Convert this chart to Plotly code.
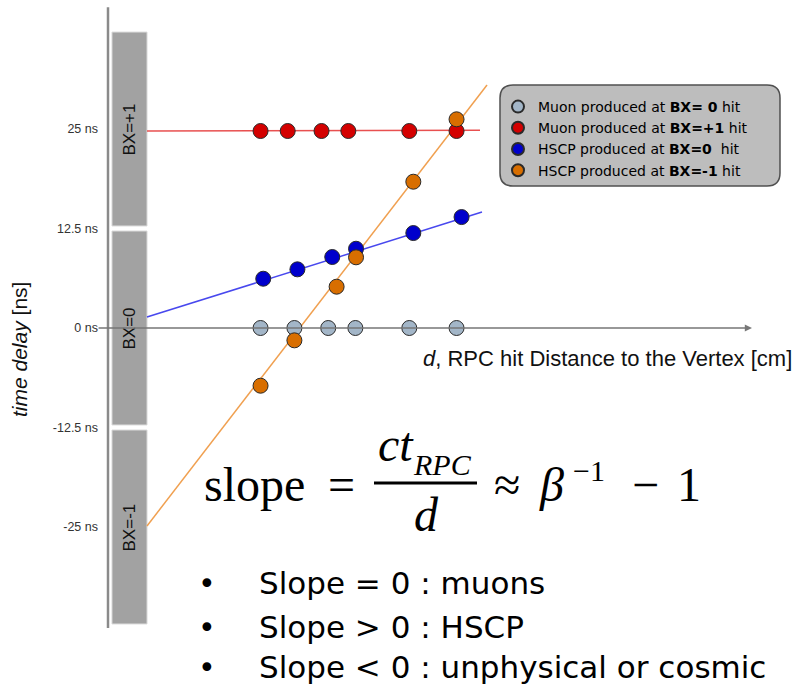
import plotly.graph_objects as go

W, H = 804, 688

# RPC hits: distance to the vertex d [cm] and time delay [ns]
d_muon_bx0 = [33.9, 44.0, 54.1, 62.2, 78.3, 92.4]
t_muon_bx0 = [0.0, 0.0, 0.0, 0.0, 0.0, 0.0]

d_muon_bxp1 = [33.9, 42.0, 52.1, 60.1, 78.3, 92.4]
t_muon_bxp1 = [24.75, 24.75, 24.75, 24.75, 24.75, 24.75]

d_hscp_bx0 = [34.7, 44.9, 55.3, 62.4, 79.5, 93.9]
t_hscp_bx0 = [6.19, 7.37, 8.92, 9.96, 11.93, 13.94]

d_hscp_bxm1 = [33.9, 44.0, 56.6, 62.4, 79.5, 92.4]
t_hscp_bxm1 = [-7.25, -1.55, 5.19, 8.88, 18.38, 26.22]

# straight-line fits through the hits (end points)
fit_d_muon_bxp1 = [0.0, 99.4]
fit_t_muon_bxp1 = [24.75, 24.85]
fit_d_hscp_bx0 = [0.0, 100.0]
fit_t_hscp_bx0 = [1.38, 14.57]
fit_d_hscp_bxm1 = [0.0, 101.5]
fit_t_hscp_bxm1 = [-24.87, 30.53]

# bunch-crossing windows [ns]
bx_labels = ["BX=-1", "BX=0", "BX=+1"]
bx_lo = [-37.5, -12.5, 12.5]
bx_hi = [-12.5, 12.5, 37.5]

# y tick labels
y_tickvals = [25, 12.5, 0, -12.5, -25]
y_ticktext = ["25 ns", "12.5 ns", "0 ns", "-12.5 ns", "-25 ns"]

legend_names = [
    "Muon produced at <b>BX= 0</b> hit",
    "Muon produced at <b>BX=+1</b> hit",
    "HSCP produced at <b>BX=0</b>  hit",
    "HSCP produced at <b>BX=-1</b> hit",
]
colors = ["#a3b6c8", "#d40000", "#0000cc", "#d86e00"]
fit_colors = ["#e85050", "#4848ee", "#f0a050"]

X_RANGE = [-43.88, 196.12]
Y_RANGE = [-45.23, 41.21]
SANS = "Liberation Sans, Arial, sans-serif"
SERIF = "Liberation Serif, Times New Roman, serif"
WIDE = "DejaVu Sans, sans-serif"


def px(x):
    return x / W


def py(y):
    return 1 - y / H


fig = go.Figure()

# fitted lines
for dd, tt, c in [(fit_d_muon_bxp1, fit_t_muon_bxp1, fit_colors[0]),
                  (fit_d_hscp_bx0, fit_t_hscp_bx0, fit_colors[1]),
                  (fit_d_hscp_bxm1, fit_t_hscp_bxm1, fit_colors[2])]:
    fig.add_trace(go.Scatter(x=dd, y=tt, mode="lines", showlegend=False,
                             line=dict(color=c, width=1.5), hoverinfo="skip"))

# hits
for dd, tt, name, c in [(d_muon_bx0, t_muon_bx0, legend_names[0], colors[0]),
                        (d_muon_bxp1, t_muon_bxp1, legend_names[1], colors[1]),
                        (d_hscp_bx0, t_hscp_bx0, legend_names[2], colors[2]),
                        (d_hscp_bxm1, t_hscp_bxm1, legend_names[3], colors[3])]:
    fig.add_trace(go.Scatter(x=dd, y=tt, mode="markers", name=name,
                             marker=dict(size=15, color=c,
                                         line=dict(color="#2a2a2a", width=1))))

shapes = []
annotations = []

# BX windows drawn as gray bands beside the time axis
BAR_D0, BAR_D1, GAP = -10.45, 0.0, 0.32
for lab, lo, hi in zip(bx_labels, bx_lo, bx_hi):
    shapes.append(dict(type="rect", xref="x", yref="y", x0=BAR_D0, x1=BAR_D1,
                       y0=lo + GAP, y1=hi - GAP, fillcolor="#a2a2a2",
                       line=dict(color="#d8d8d8", width=1), layer="below"))
    annotations.append(dict(xref="x", yref="y", x=(BAR_D0 + BAR_D1) / 2,
                            y=(lo + hi) / 2, text=lab, showarrow=False,
                            textangle=-90, font=dict(family=SANS, size=17, color="#111")))

# vertical time axis
AXIS_D = -11.64
shapes.append(dict(type="line", xref="x", yref="y", x0=AXIS_D, x1=AXIS_D,
                   y0=-37.7, y1=40.3, line=dict(color="#8a8a8a", width=2.5)))

# distance axis with arrow
annotations.append(dict(xref="x", yref="y", axref="x", ayref="y",
                        x=180.6, y=0, ax=-14.9, ay=0, text="", showarrow=True,
                        arrowhead=2, arrowsize=0.9, arrowwidth=1.6,
                        arrowcolor="#777", standoff=0, startstandoff=0))

annotations.append(dict(xref="paper", yref="paper", x=px(607), y=py(358),
                        xanchor="center", yanchor="middle",
                        text="<i>d</i>, RPC hit Distance to the Vertex [cm]",
                        showarrow=False, font=dict(family=SANS, size=22, color="#111")))
annotations.append(dict(xref="paper", yref="paper", x=px(19), y=py(350),
                        xanchor="center", yanchor="middle",
                        text="<i>time delay</i> [ns]", textangle=-90,
                        showarrow=False, font=dict(family=SANS, size=21, color="#111")))

# legend frame (rounded box)
lx0, lx1, ly0, ly1, r = 500, 780, 85, 186, 13
path = (f"M {px(lx0 + r)} {py(ly0)} L {px(lx1 - r)} {py(ly0)} "
        f"Q {px(lx1)} {py(ly0)} {px(lx1)} {py(ly0 + r)} "
        f"L {px(lx1)} {py(ly1 - r)} Q {px(lx1)} {py(ly1)} {px(lx1 - r)} {py(ly1)} "
        f"L {px(lx0 + r)} {py(ly1)} Q {px(lx0)} {py(ly1)} {px(lx0)} {py(ly1 - r)} "
        f"L {px(lx0)} {py(ly0 + r)} Q {px(lx0)} {py(ly0)} {px(lx0 + r)} {py(ly0)} Z")
shapes.append(dict(type="path", xref="paper", yref="paper", path=path,
                   fillcolor="#bdbdbd", line=dict(color="#505050", width=1.5),
                   layer="below"))


# slope formula
def txt(x, y, s, size, family=SERIF, xanchor="left"):
    annotations.append(dict(xref="paper", yref="paper", x=px(x), y=py(y), text=s,
                            showarrow=False, xanchor=xanchor, yanchor="middle",
                            font=dict(family=family, size=size, color="#000")))


txt(202, 484, "slope", 48)
txt(326, 484, "=", 48)
txt(376, 444, "<i>ct</i>", 48)
txt(411, 464, "<i>RPC</i>", 30)
shapes.append(dict(type="line", xref="paper", yref="paper", x0=px(374), x1=px(477),
                   y0=py(483), y1=py(483), line=dict(color="#000", width=3)))
txt(426, 514, "<i>d</i>", 48, xanchor="center")
txt(492, 484, "≈", 48)
txt(537, 484, "<i>β</i>", 48)
txt(571, 470, "−1", 30)
txt(630, 484, "−", 48)
txt(675, 484, "1", 48)

# bullet list
bullets = ["Slope = 0 : muons", "Slope > 0 : HSCP", "Slope < 0 : unphysical or cosmic"]
bullet_y = [583, 627, 667]
for s, yy in zip(bullets, bullet_y):
    txt(207, yy, "•", 30, family=WIDE, xanchor="center")
    txt(257, yy, s, 31, family=WIDE)

fig.update_layout(
    width=W, height=H, margin=dict(l=0, r=0, t=0, b=0),
    paper_bgcolor="white", plot_bgcolor="white",
    xaxis=dict(range=X_RANGE, visible=False, fixedrange=True),
    yaxis=dict(range=Y_RANGE, anchor="free", position=px(108), side="left",
               showgrid=False, zeroline=False, showline=False,
               tickvals=y_tickvals, ticktext=y_ticktext, ticks="",
               ticklabelstandoff=10, tickfont=dict(family=SANS, size=12.5, color="#333")),
    showlegend=True,
    legend=dict(x=px(498), y=py(91), xanchor="left", yanchor="top",
                bgcolor="rgba(0,0,0,0)", font=dict(family=WIDE, size=14, color="#000"),
                tracegroupgap=0, itemsizing="constant"),
    shapes=shapes, annotations=annotations,
)

fig.write_html("out.html")
